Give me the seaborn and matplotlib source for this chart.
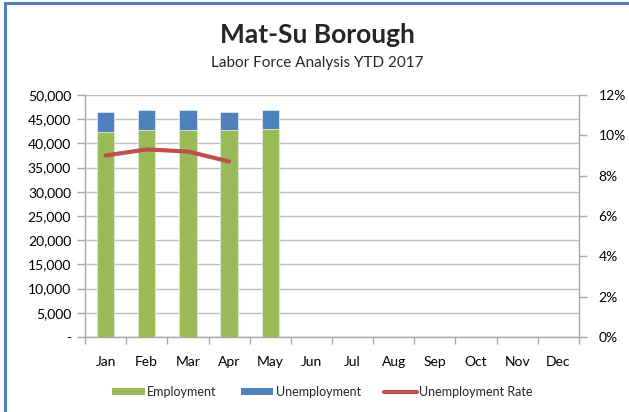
import matplotlib
matplotlib.use("Agg")
import matplotlib.pyplot as plt
import seaborn as sns
import pandas as pd
from matplotlib.patches import Patch, Rectangle
from matplotlib.lines import Line2D
from matplotlib.ticker import FuncFormatter, MultipleLocator

months = ["Jan", "Feb", "Mar", "Apr", "May", "Jun", "Jul", "Aug", "Sep", "Oct", "Nov", "Dec"]
data_months = ["Jan", "Feb", "Mar", "Apr", "May"]
employment = [42300, 42800, 42800, 42800, 43000]
unemployment = [4250, 4200, 4200, 3750, 4000]
rate_months = ["Jan", "Feb", "Mar", "Apr"]
unemployment_rate = [9.0, 9.3, 9.2, 8.7]

title = "Mat-Su Borough"
subtitle = "Labor Force Analysis YTD 2017"

GREEN = "#9BBB59"
BLUE = "#4F81BD"
RED = "#C0504D"
GRID = "#BFBFBF"

sns.set_theme(style="white")
plt.rcParams["font.family"] = ["Lato", "DejaVu Sans"]

df = pd.DataFrame({
    "month": data_months,
    "employment": employment,
    "total": [e + u for e, u in zip(employment, unemployment)],
})
rdf = pd.DataFrame({"pos": [months.index(m) for m in rate_months], "rate": unemployment_rate})

fig = plt.figure(figsize=(6.29, 4.12), dpi=100)
ax = fig.add_axes([85 / 629, 1 - 337 / 412, (579 - 85) / 629, (337 - 95) / 412])

sns.barplot(data=df, x="month", y="total", order=months, color=BLUE, saturation=1,
            width=0.42, ax=ax, edgecolor="#DCE6F2", linewidth=0.6, zorder=3)
sns.barplot(data=df, x="month", y="employment", order=months, color=GREEN, saturation=1,
            width=0.42, ax=ax, edgecolor="#E4ECD5", linewidth=0.6, zorder=4)

ax.set_xlim(-0.5, 11.5)
ax.set_ylim(0, 50000)
ax.yaxis.set_major_locator(MultipleLocator(5000))
ax.yaxis.set_major_formatter(FuncFormatter(lambda v, p: "-" if v == 0 else f"{int(v):,}"))
ax.set_xlabel("")
ax.set_ylabel("")
ax.grid(axis="y", color=GRID, linewidth=1, zorder=0)
ax.set_axisbelow(True)
for s in ["top", "right"]:
    ax.spines[s].set_visible(False)
for s in ["left", "bottom"]:
    ax.spines[s].set_color("#A6A6A6")
    ax.spines[s].set_linewidth(1)
ax.set_xticks(range(12))
ax.set_xticklabels(months)
ax.set_xticks([i + 0.5 for i in range(-1, 12)], minor=True)
ax.tick_params(axis="x", which="major", length=0, pad=14, labelsize=10, colors="black")
ax.tick_params(axis="x", which="minor", length=5, color="#A6A6A6", width=1, bottom=True)
ax.tick_params(axis="y", which="major", length=6, color="#A6A6A6", width=1, left=True,
               labelsize=10, labelcolor="black", pad=4)

ax2 = ax.twinx()
sns.lineplot(data=rdf, x="pos", y="rate", color=RED, linewidth=3, ax=ax2, zorder=5)
ax2.set_ylim(0, 12)
ax2.set_xlim(-0.5, 11.5)
ax2.yaxis.set_major_locator(MultipleLocator(2))
ax2.yaxis.set_major_formatter(FuncFormatter(lambda v, p: f"{int(v)}%"))
ax2.set_ylabel("")
ax2.set_xlabel("")
for s in ["top", "left", "bottom"]:
    ax2.spines[s].set_visible(False)
ax2.spines["right"].set_color("#A6A6A6")
ax2.spines["right"].set_linewidth(1)
ax2.tick_params(axis="y", length=6, color="#A6A6A6", width=1, right=True,
                labelsize=10, labelcolor="black", pad=8)

fig.text(0.505, 1 - 35 / 412, title, ha="center", va="center", fontsize=19, fontweight="bold")
fig.text(0.505, 1 - 63 / 412, subtitle, ha="center", va="center", fontsize=11)

handles = [Patch(facecolor=GREEN, edgecolor="none"),
           Patch(facecolor=BLUE, edgecolor="none"),
           Line2D([0], [0], color=RED, linewidth=3)]
labels = ["Employment", "Unemployment", "Unemployment Rate"]
fig.legend(handles, labels, loc="center", bbox_to_anchor=(0.513, 1 - 392 / 412), ncol=3,
           frameon=False, fontsize=9, handlelength=2.6, handleheight=0.5, columnspacing=1.9,
           handletextpad=0.2)

fig.patches.append(Rectangle((5 / 629, -0.1), 1.2, 1 - 3 / 412 + 0.1, transform=fig.transFigure,
                             fill=False, edgecolor=BLUE, linewidth=2.2, figure=fig))

fig.savefig("out.png", dpi=100, facecolor="white")
